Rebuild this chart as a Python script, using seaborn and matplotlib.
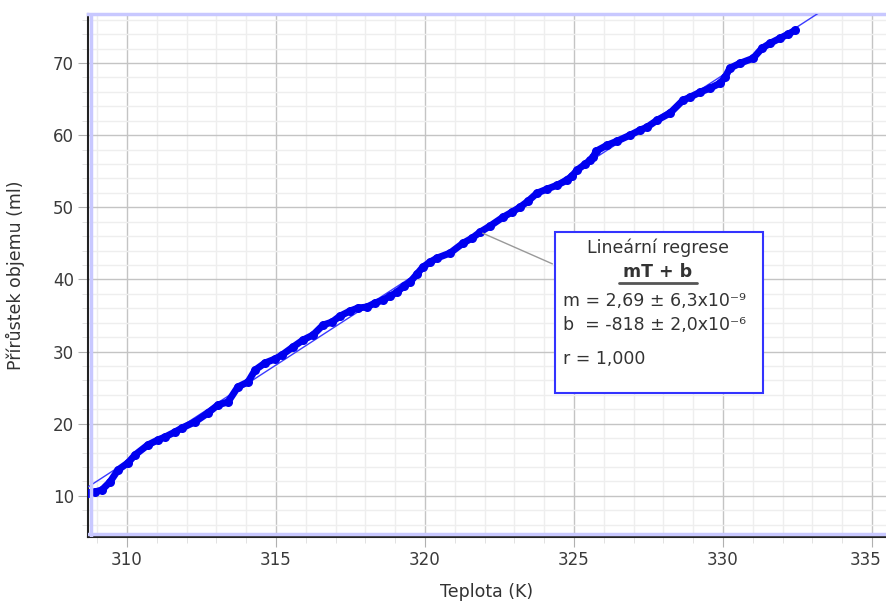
import numpy as np
import pandas as pd
import matplotlib
matplotlib.use("Agg")
import matplotlib.pyplot as plt
import matplotlib.transforms as mtransforms
from matplotlib.ticker import MultipleLocator
from matplotlib.patches import Rectangle
from matplotlib.lines import Line2D
import seaborn as sns

# Data
teplota = [308.69, 308.93, 309.16, 309.43, 309.70, 310.03, 310.27, 310.70, 311.04, 311.28,
           311.61, 311.85, 312.28, 312.72, 313.05, 313.39, 313.72, 314.06, 314.30, 314.63,
           314.97, 315.20, 315.57, 315.91, 316.24, 316.58, 316.88, 317.15, 317.48, 317.75,
           318.05, 318.32, 318.59, 318.83, 319.06, 319.30, 319.50, 319.73, 319.93, 320.17,
           320.40, 320.84, 321.28, 321.58, 321.85, 322.18, 322.62, 322.92, 323.19, 323.46,
           323.76, 324.09, 324.43, 324.77, 324.93, 325.10, 325.37, 325.54, 325.64, 325.74,
           326.11, 326.44, 326.88, 327.21, 327.45, 327.79, 328.22, 328.66, 328.89, 329.23,
           329.56, 329.90, 330.07, 330.23, 330.57, 331.01, 331.31, 331.58, 331.91, 332.18,
           332.42]
objem = [10.42, 10.55, 10.83, 11.94, 13.60, 14.57, 15.68, 17.06, 17.76, 18.17,
         18.86, 19.42, 20.25, 21.50, 22.60, 23.02, 25.10, 25.79, 27.45, 28.42,
         28.98, 29.53, 30.64, 31.61, 32.30, 33.68, 34.10, 34.93, 35.62, 36.04,
         36.18, 36.73, 37.15, 37.70, 38.25, 39.09, 39.64, 40.75, 41.72, 42.41,
         42.96, 43.66, 45.04, 45.73, 46.57, 47.40, 48.64, 49.34, 50.03, 50.86,
         51.97, 52.52, 53.07, 53.77, 54.32, 55.15, 55.98, 56.54, 56.95, 57.78,
         58.61, 59.17, 60.00, 60.69, 61.11, 62.08, 63.05, 64.85, 65.26, 65.96,
         66.51, 67.20, 68.03, 69.28, 69.97, 70.66, 72.05, 72.74, 73.43, 73.99,
         74.54]

x_ticks = [310, 315, 320, 325, 330, 335]
y_ticks = [10, 20, 30, 40, 50, 60, 70]
box_lines = ["Lineární regrese", "mT + b", "m = 2,69 ± 6,3x10⁻⁹", "b  = -818 ± 2,0x10⁻⁶", "r = 1,000"]

df = pd.DataFrame({"Teplota": teplota, "Objem": objem})

sns.set_style("white")
plt.rcParams['font.family'] = ['DejaVu Sans']

fig = plt.figure(figsize=(8.86, 6.03), dpi=100)
ax = fig.add_axes([0.0993, 0.1095, 0.9007, 0.8673])

xlim = (308.69, 335.47)
ylim = (4.3, 76.8)
ax.set_xlim(*xlim)
ax.set_ylim(*ylim)

ax.xaxis.set_major_locator(MultipleLocator(5))
ax.xaxis.set_minor_locator(MultipleLocator(1))
ax.yaxis.set_major_locator(MultipleLocator(10))
ax.yaxis.set_minor_locator(MultipleLocator(2))
ax.grid(which='major', color='#c4c4c4', linewidth=1.0)
ax.grid(which='minor', color='#eeeeee', linewidth=1.0)
ax.set_axisbelow(True)

# regression line
m, b = np.polyfit(df["Teplota"], df["Objem"], 1)
xx = np.array(xlim)
ax.plot(xx, m * xx + b, color='#3a3aff', linewidth=1.0, zorder=3)

sns.lineplot(data=df, x="Teplota", y="Objem", ax=ax, sort=False, color='#0000f0',
             linewidth=5.0, marker='o', markersize=6.5, markeredgewidth=0, zorder=4)

ax.set_xticks(x_ticks)
ax.set_yticks(y_ticks)
ax.tick_params(which='major', direction='out', length=7, color='#b0b0b0', labelsize=12,
               labelcolor='#3a3a3a', pad=3)
ax.tick_params(which='minor', direction='out', length=4, color='#dddddd')
ax.tick_params(axis='x', which='both', bottom=True)
ax.tick_params(axis='y', which='both', left=True)

# keep last x tick label inside the figure
fig.canvas.draw()
last = ax.get_xticklabels()[-1]
last.set_transform(last.get_transform() + mtransforms.ScaledTranslation(-6 / 100, 0, fig.dpi_scale_trans))

ax.set_xlabel("Teplota (K)", fontsize=12.5, color='#333333', labelpad=10)
ax.set_ylabel("Přírůstek objemu (ml)", fontsize=12.5, color='#333333', labelpad=20)

for s in ['left', 'bottom']:
    ax.spines[s].set_color('#222222')
    ax.spines[s].set_linewidth(1.5)
ax.spines['right'].set_visible(False)
ax.spines['top'].set_color('#c8c8ff')
ax.spines['top'].set_linewidth(2.5)
ax.add_line(Line2D([0.004, 0.004], [0, 1], transform=ax.transAxes, color='#c8c8ff', lw=2.5, zorder=5))
ax.add_line(Line2D([0, 1], [0.006, 0.006], transform=ax.transAxes, color='#c8c8ff', lw=2.5, zorder=5))

# annotation box
W, H = 886.0, 603.0
def fx(px): return px / W
def fy(py): return 1 - py / H

ax.annotate("", xy=(321.85, 46.57), xycoords='data',
            xytext=(fx(555), fy(265)), textcoords='figure fraction',
            arrowprops=dict(arrowstyle='-', color='#999999', lw=1.0), zorder=6)
fig.patches.append(Rectangle((fx(555), fy(393)), fx(763) - fx(555), fy(232) - fy(393),
                             transform=fig.transFigure, facecolor='white', edgecolor='#3333ff',
                             linewidth=1.5, zorder=7))
tc = '#333333'
fs = 12.5
fig.text(fx(658), fy(248), box_lines[0], ha='center', va='center', fontsize=fs, color=tc, zorder=8)
fig.text(fx(658), fy(272), box_lines[1], ha='center', va='center', fontsize=fs, color=tc,
         fontweight='bold', zorder=8)
fig.lines.append(Line2D([fx(619), fx(697)], [fy(283), fy(283)], transform=fig.transFigure,
                        color='#555555', lw=2, zorder=8))
fig.text(fx(563), fy(301), box_lines[2], ha='left', va='center', fontsize=fs, color=tc, zorder=8)
fig.text(fx(563), fy(325), box_lines[3], ha='left', va='center', fontsize=fs, color=tc, zorder=8)
fig.text(fx(563), fy(359), box_lines[4], ha='left', va='center', fontsize=fs, color=tc, zorder=8)

fig.savefig("out.png", dpi=100)
